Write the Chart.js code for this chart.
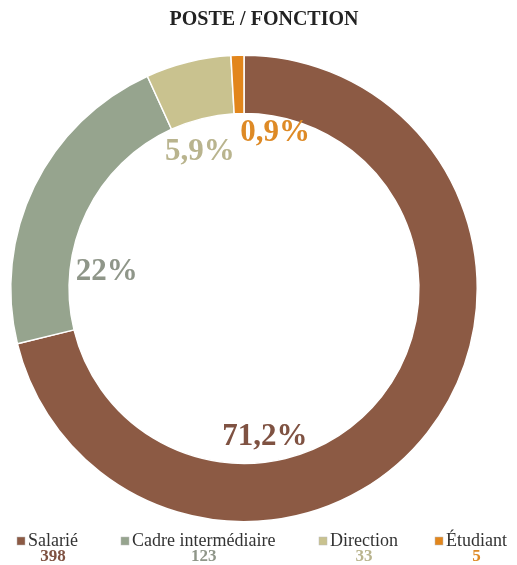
<!DOCTYPE html>
<html>
<head>
<meta charset="utf-8">
<script src="https://cdn.jsdelivr.net/npm/chart.js@4.4.1/dist/chart.umd.min.js"></script>
<style>
  html, body { margin: 0; padding: 0; background: #fff; }
  #wrap { width: 517px; height: 565px; position: relative; }
</style>
</head>
<body>
<div id="wrap"><canvas id="posteChart" width="517" height="565"></canvas></div>
<script>
const title = "POSTE / FONCTION";
const categories = ["Salarié", "Cadre intermédiaire", "Direction", "Étudiant"];
const counts = [398, 123, 33, 5];
const percentLabels = ["71,2%", "22%", "5,9%", "0,9%"];
const sliceColors = ["#8c5a44", "#96a48e", "#c9c28f", "#e2861c"];
const labelColors = ["#7f5242", "#8f9689", "#b9b48e", "#de8a26"];

// where each percentage sits, as a fraction of the outer radius from the centre
const labelOffsets = [[0.09, 0.635], [-0.588, -0.069], [-0.189, -0.584], [0.133, -0.665]];
// legend item left edges
const legendX = [17, 121, 319, 435];

const serif = "'Liberation Serif', 'DejaVu Serif', serif";

const overlay = {
  id: 'overlay',
  afterDraw(chart) {
    const ctx = chart.ctx;
    const arc = chart.getDatasetMeta(0).data[0];
    const cx = arc.x, cy = arc.y, R = arc.outerRadius;
    ctx.save();
    // title
    ctx.fillStyle = '#222';
    ctx.font = "bold 20px " + serif;
    ctx.textAlign = 'center';
    ctx.textBaseline = 'middle';
    ctx.fillText(title, 264, 20);
    // percentages
    ctx.font = "bold 31px " + serif;
    percentLabels.forEach((t, i) => {
      ctx.fillStyle = labelColors[i];
      ctx.fillText(t, cx + labelOffsets[i][0] * R, cy + labelOffsets[i][1] * R);
    });
    // legend
    categories.forEach((name, i) => {
      const x = legendX[i];
      ctx.fillStyle = sliceColors[i];
      ctx.fillRect(x, 537, 8, 8);
      ctx.strokeStyle = '#bbb';
      ctx.lineWidth = 0.5;
      ctx.strokeRect(x, 537, 8, 8);
      ctx.font = "18px " + serif;
      ctx.textAlign = 'left';
      ctx.fillStyle = '#333';
      ctx.fillText(name, x + 11, 541);
      const w = ctx.measureText(name).width;
      ctx.font = "bold 17px " + serif;
      ctx.textAlign = 'center';
      ctx.fillStyle = labelColors[i];
      ctx.fillText(String(counts[i]), x + 11 + w / 2, 557);
    });
    ctx.restore();
  }
};

new Chart(document.getElementById('posteChart').getContext('2d'), {
  type: 'doughnut',
  data: {
    labels: categories,
    datasets: [{
      data: counts,
      backgroundColor: sliceColors,
      borderColor: '#ffffff',
      borderWidth: 1.5
    }]
  },
  options: {
    responsive: false,
    animation: false,
    cutout: '75%',
    layout: { padding: { top: 54, bottom: 42, left: 10, right: 39 } },
    plugins: {
      legend: { display: false },
      title: { display: false },
      tooltip: { enabled: false }
    }
  },
  plugins: [overlay]
});
</script>
</body>
</html>
